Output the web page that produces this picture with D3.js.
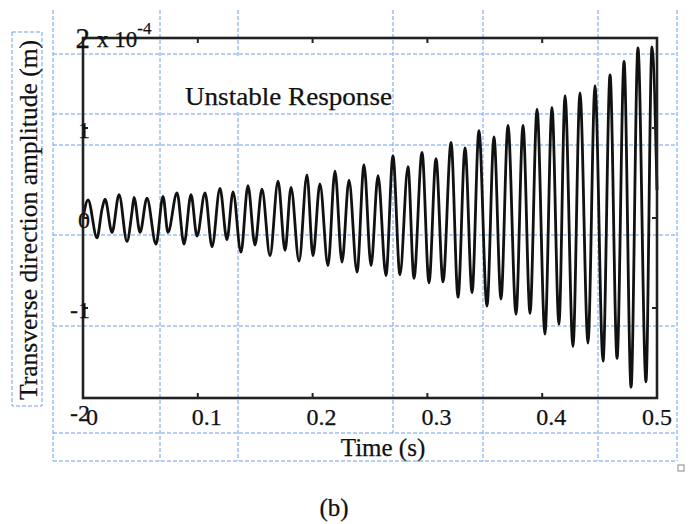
<!DOCTYPE html>
<html lang="en">
<head>
    <meta charset="UTF-8">
    <title>Unstable Response (b)</title>
    <script src="https://d3js.org/d3.v7.min.js"></script>
    <style>
        body { margin: 0; background: #fff; }
        text { font-family: "Liberation Serif", "Times New Roman", serif; fill: #111; stroke: #111; stroke-width: 0.25px; }
    </style>
</head>
<body>
<svg width="690" height="524"></svg>

<script>
    // time (s) and transverse amplitude (x 1e-4 m) at each turn of the curve
    const time = [0, 0.0044, 0.0122, 0.0166, 0.0192, 0.0253, 0.0314, 0.0383, 0.0427, 0.0444,
        0.0497, 0.0557, 0.0636, 0.0697, 0.0740, 0.0819, 0.0880, 0.0941, 0.0993, 0.1063,
        0.1124, 0.1193, 0.1254, 0.1307, 0.1376, 0.1437, 0.1498, 0.1559, 0.1629, 0.1699,
        0.1760, 0.1812, 0.1882, 0.1951, 0.2003, 0.2064, 0.2134, 0.2195, 0.2256, 0.2317,
        0.2387, 0.2448, 0.2509, 0.2570, 0.2639, 0.2700, 0.2761, 0.2831, 0.2883, 0.2953,
        0.3014, 0.3075, 0.3136, 0.3206, 0.3267, 0.3328, 0.3389, 0.3449, 0.3519, 0.3580,
        0.3641, 0.3702, 0.3772, 0.3833, 0.3894, 0.3955, 0.4024, 0.4085, 0.4146, 0.4199,
        0.4268, 0.4329, 0.4399, 0.4460, 0.4530, 0.4591, 0.4652, 0.4713, 0.4774, 0.4834,
        0.4904, 0.4956, 0.5];
    const amp = [0, 0.20, -0.22, 0.10, 0.21, -0.16, 0.26, -0.26, 0.07, 0.23,
        -0.16, 0.22, -0.29, 0.24, -0.16, 0.28, -0.29, 0.26, -0.20, 0.28,
        -0.32, 0.33, -0.24, 0.29, -0.38, 0.36, -0.30, 0.32, -0.42, 0.41,
        -0.36, 0.34, -0.48, 0.48, -0.42, 0.38, -0.53, 0.52, -0.49, 0.42,
        -0.60, 0.59, -0.53, 0.47, -0.64, 0.69, -0.63, 0.57, -0.67, 0.73,
        -0.72, 0.66, -0.71, 0.84, -0.88, 0.78, -0.83, 0.97, -0.98, 0.90,
        -0.90, 1.03, -1.07, 1.03, -1.06, 1.21, -1.29, 1.23, -1.18, 1.36,
        -1.43, 1.39, -1.39, 1.47, -1.59, 1.59, -1.56, 1.74, -1.88, 1.89,
        -1.82, 1.90, 0.31];

    const xTicks = [0, 0.1, 0.2, 0.3, 0.4, 0.5];
    const xTickLabels = ["0", "0.1", "0.2", "0.3", "0.4", "0.5"];
    const yTicks = [2, 1, 0, -1, -2];
    const yTickLabels = ["2", "1", "0", "-1", "-2"];

    const svg = d3.select("svg");

    // plot box
    const boxL = 83, boxR = 657, boxT = 38, boxB = 398;
    const x = d3.scaleLinear().domain([0, 0.5]).range([boxL, boxR]);
    const y = d3.scaleLinear().domain([-2, 2]).range([boxB, boxT]);

    // word-canvas guide lines (blue dashes)
    const guides = svg.append("g")
        .attr("stroke", "#6d9ee8")
        .attr("stroke-width", 1)
        .attr("stroke-dasharray", "4,2")
        .attr("fill", "none");
    [[53, 10, 461], [160, 10, 461], [238, 10, 461], [393, 10, 433],
     [483, 10, 461], [598, 10, 461], [677, 10, 461]].forEach(function (v) {
        guides.append("line").attr("x1", v[0]).attr("x2", v[0]).attr("y1", v[1]).attr("y2", v[2]);
    });
    [54, 114, 145, 235, 326, 433, 461].forEach(function (h) {
        guides.append("line").attr("x1", 53).attr("x2", 677).attr("y1", h).attr("y2", h);
    });
    guides.append("rect").attr("x", 12).attr("y", 32).attr("width", 30).attr("height", 374);

    svg.append("rect")
        .attr("x", 678).attr("y", 465).attr("width", 6).attr("height", 6)
        .attr("fill", "#fff").attr("stroke", "#8a8a8a");

    // the response curve
    const line = d3.line()
        .x(function (d, i) { return x(time[i]); })
        .y(function (d) { return y(d); })
        .curve(d3.curveMonotoneX);

    svg.append("path")
        .datum(amp)
        .attr("d", line)
        .attr("fill", "none")
        .attr("stroke", "#111")
        .attr("stroke-width", 2.8)
        .attr("stroke-linejoin", "round");

    // axes with inner ticks on all four sides
    const axisG = svg.append("g").attr("stroke", "#222");
    axisG.append("rect")
        .attr("x", boxL).attr("y", boxT)
        .attr("width", boxR - boxL).attr("height", boxB - boxT)
        .attr("fill", "none").attr("stroke-width", 2.6);

    xTicks.slice(1, -1).forEach(function (t) {
        axisG.append("line").attr("x1", x(t)).attr("x2", x(t)).attr("y1", boxB).attr("y2", boxB - 5).attr("stroke-width", 2);
        axisG.append("line").attr("x1", x(t)).attr("x2", x(t)).attr("y1", boxT).attr("y2", boxT + 5).attr("stroke-width", 2);
    });
    yTicks.slice(1, -1).forEach(function (v) {
        axisG.append("line").attr("x1", boxL).attr("x2", boxL + 5).attr("y1", y(v)).attr("y2", y(v)).attr("stroke-width", 2);
        axisG.append("line").attr("x1", boxR).attr("x2", boxR - 5).attr("y1", y(v)).attr("y2", y(v)).attr("stroke-width", 2);
    });

    // tick labels
    svg.append("g").selectAll("text")
        .data(xTicks)
        .enter()
        .append("text")
        .attr("x", function (d, i) { return x(d) + (i === xTicks.length - 1 ? 0 : 9); })
        .attr("y", boxB + 27)
        .attr("text-anchor", "middle")
        .attr("font-size", 24)
        .text(function (d, i) { return xTickLabels[i]; });

    svg.append("g").selectAll("text")
        .data(yTicks)
        .enter()
        .append("text")
        .attr("x", boxL + 7)
        .attr("y", function (d) { return y(d) + (d === -2 ? 23 : 10); })
        .attr("text-anchor", "end")
        .attr("font-size", function (d) { return d === 2 ? 29 : 24; })
        .text(function (d, i) { return yTickLabels[i]; });

    // exponent
    const expo = svg.append("text").attr("x", 97).attr("y", 47).attr("font-size", 23);
    expo.append("tspan").text("x 10");
    expo.append("tspan").attr("font-size", 17).attr("dy", -13).text("-4");

    // title box
    svg.append("rect").attr("x", 170).attr("y", 56).attr("width", 219).attr("height", 56).attr("fill", "#fff");
    svg.append("text")
        .attr("x", 185).attr("y", 105)
        .attr("font-size", 25)
        .attr("textLength", 207)
        .attr("lengthAdjust", "spacingAndGlyphs")
        .text("Unstable Response");

    // axis titles
    svg.append("text")
        .attr("transform", "translate(37,220) rotate(-90)")
        .attr("text-anchor", "middle")
        .attr("font-size", 25)
        .attr("textLength", 360)
        .attr("lengthAdjust", "spacingAndGlyphs")
        .text("Transverse direction amplitude (m)");

    svg.append("text")
        .attr("x", 383).attr("y", 456)
        .attr("text-anchor", "middle")
        .attr("font-size", 25)
        .text("Time (s)");

    svg.append("text")
        .attr("x", 334).attr("y", 516)
        .attr("text-anchor", "middle")
        .attr("font-size", 25)
        .text("(b)");
</script>
</body>
</html>
